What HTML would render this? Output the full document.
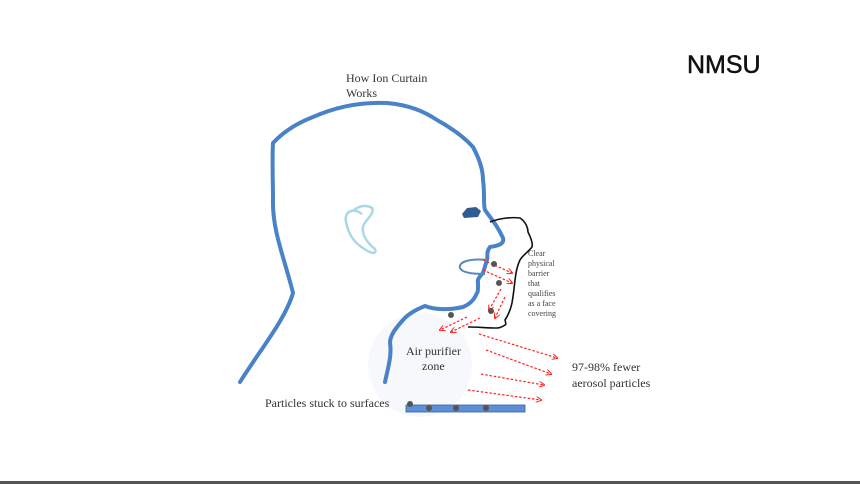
<!DOCTYPE html>
<html><head><meta charset="utf-8"><style>
html,body{margin:0;padding:0;background:#fff;width:860px;height:484px;overflow:hidden}
svg{display:block}
</style></head><body>
<svg width="860" height="484" viewBox="0 0 860 484" xmlns="http://www.w3.org/2000/svg">
<defs>
<marker id="ah" markerWidth="6" markerHeight="6" refX="5" refY="3" orient="auto" markerUnits="userSpaceOnUse">
<path d="M0,0 L6,3 L0,6" fill="none" stroke="#f22" stroke-width="1"/>
</marker>
</defs>
<rect x="0" y="481" width="860" height="3" fill="#555"/>
<text x="687" y="73" font-family="Liberation Sans, sans-serif" font-size="25" fill="#111" stroke="#111" stroke-width="0.5">NMSU</text>
<text x="346" y="82" font-family="Liberation Serif, serif" font-size="12" fill="#333">How Ion Curtain</text>
<text x="346" y="97" font-family="Liberation Serif, serif" font-size="12" fill="#333">Works</text>
<circle cx="420" cy="365" r="52" fill="#f6f8fc"/>
<path d="M240,382 C260,350 285,320 293,293 C285,260 272,230 273,200 C273,180 272,160 273,143 C285,130 300,122 313,117 C340,105 365,102 387,103 C410,105 425,112 437,120 C455,130 465,138 473,147 C480,160 483,170 483,180 C485,195 483,203 485,210 C492,220 497,225 503,238 C505,245 495,246 490,247 C486,252 488,256 487,260 C485,266 484,270 483,273 C479,277 477,280 478,283 C478,290 478,292 477,293 C474,300 470,304 463,307 C450,310 435,310 425,306 C415,310 408,314 403,320 C396,328 390,335 390,343 C392,355 388,368 385,382" fill="none" stroke="#4a82c8" stroke-width="4" stroke-linejoin="round" stroke-linecap="round"/>
<path d="M362,214 C352,207 344,212 346,222 C348,232 352,242 366,250 C372,254 377,254 375,249 C366,242 360,232 364,224 C368,218 375,212 372,208 C368,205 360,205 354,210" fill="none" stroke="#a9d9e6" stroke-width="2.5"/>
<path d="M462,214 L467,208 L476,207 L481,211 L478,217 L464,218 Z" fill="#2f5d92"/>
<path d="M487,260 C470,258 458,262 460,268 C462,273 475,274 485,274" fill="none" stroke="#5b88be" stroke-width="2"/>
<path d="M490,222 C500,218 512,217 520,218 C526,222 528,228 528,232 C531,238 533,244 532,247 C528,252 522,256 520,260 C516,268 516,274 515,280 C514,290 513,297 512,303 C510,312 507,317 505,320 C506,323 506,325 505,325 C502,327 500,328 497,328 C488,328 478,327 468,327" fill="none" stroke="#111" stroke-width="1.6"/>
<g font-family="Liberation Serif, serif" font-size="8" fill="#444">
<text x="528" y="256">Clear</text>
<text x="528" y="266">physical</text>
<text x="528" y="276">barrier</text>
<text x="528" y="286">that</text>
<text x="528" y="296">qualifies</text>
<text x="528" y="306">as a face</text>
<text x="528" y="316">covering</text>
</g>
<g stroke="#f22" stroke-width="1.2" stroke-dasharray="2.5,1.8" fill="none" marker-end="url(#ah)">
<line x1="483" y1="260" x2="512" y2="273"/>
<line x1="483" y1="270" x2="512" y2="283"/>
<line x1="501" y1="289" x2="489" y2="310"/>
<line x1="505" y1="297" x2="495" y2="318"/>
<line x1="467" y1="317" x2="440" y2="330"/>
<line x1="480" y1="318" x2="451" y2="332"/>
<line x1="479" y1="334" x2="557" y2="358"/>
<line x1="486" y1="350" x2="551" y2="374"/>
<line x1="481" y1="374" x2="544" y2="385"/>
<line x1="468" y1="390" x2="541" y2="400"/>
</g>
<g fill="#555">
<circle cx="494" cy="264" r="3"/>
<circle cx="499" cy="283" r="3"/>
<circle cx="491" cy="311" r="3"/>
<circle cx="451" cy="315" r="3"/>
</g>
<text x="406" y="355" font-family="Liberation Serif, serif" font-size="12" fill="#333">Air purifier</text>
<text x="422" y="370" font-family="Liberation Serif, serif" font-size="12" fill="#333">zone</text>
<text x="572" y="371" font-family="Liberation Serif, serif" font-size="12" fill="#333">97-98% fewer</text>
<text x="572" y="387" font-family="Liberation Serif, serif" font-size="12" fill="#333">aerosol particles</text>
<text x="265" y="407" font-family="Liberation Serif, serif" font-size="12" fill="#333">Particles stuck to surfaces</text>
<rect x="406" y="405" width="119" height="7" fill="#5b8fd8" stroke="#3a5f9a" stroke-width="0.8"/>
<g fill="#555">
<circle cx="410" cy="404" r="3"/>
<circle cx="429" cy="408" r="3"/>
<circle cx="456" cy="408" r="3"/>
<circle cx="486" cy="408" r="3"/>
</g>
</svg>
</body></html>
